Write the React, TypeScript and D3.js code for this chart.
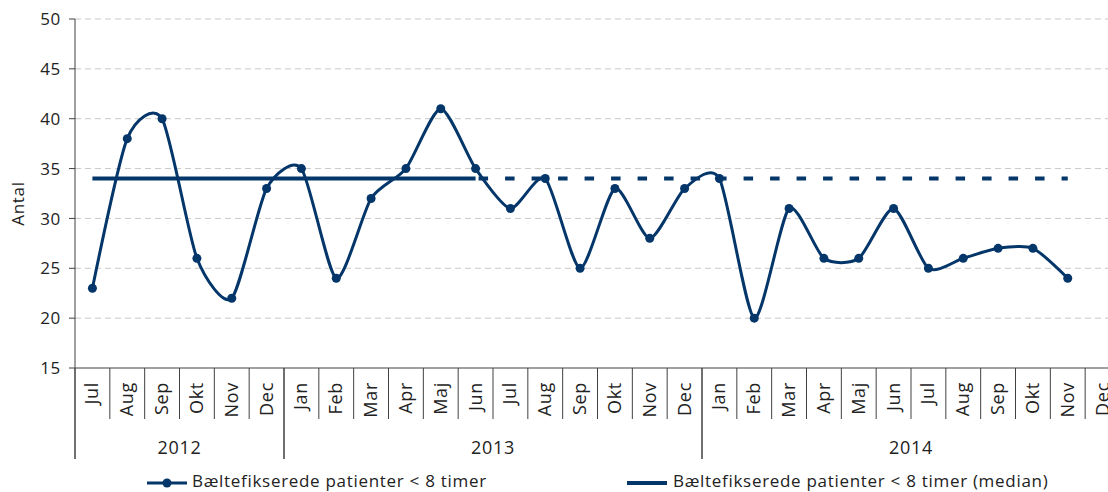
import React from "react";
import * as d3 from "d3";

const months = [
  "Jul", "Aug", "Sep", "Okt", "Nov", "Dec",
  "Jan", "Feb", "Mar", "Apr", "Maj", "Jun", "Jul", "Aug", "Sep", "Okt", "Nov", "Dec",
  "Jan", "Feb", "Mar", "Apr", "Maj", "Jun", "Jul", "Aug", "Sep", "Okt", "Nov", "Dec",
];
const yearLabels = ["2012", "2013", "2014"];
const yearStarts = [0, 6, 18];
const yearCounts = [6, 12, 12];
const values = [
  23, 38, 40, 26, 22, 33,
  35, 24, 32, 35, 41, 35, 31, 34, 25, 33, 28, 33,
  34, 20, 31, 26, 26, 31, 25, 26, 27, 27, 24,
];
const medianValue = 34;
const medianSolidRange = [0, 11];
const medianDashedRange = [11, 28];
const yTicks = [15, 20, 25, 30, 35, 40, 45, 50];
const seriesName = "Bæltefikserede patienter < 8 timer";
const medianName = "Bæltefikserede patienter < 8 timer (median)";

const W = 1108;
const H = 492;
const NAVY = "#04366a";
const FONT = "'Open Sans', Roboto, sans-serif";
const FS = 17;
const LS = 0.7;

export default function App() {
  const left = 75;
  const right = 1120;
  const top = 19;
  const bottom = 368;
  const x = d3.scaleBand<number>().domain(d3.range(months.length)).range([left, right]).padding(0);
  const y = d3.scaleLinear().domain([15, 50]).range([bottom, top]);
  const cx = (i: number) => (x(i) as number) + x.bandwidth() / 2;

  const line = d3
    .line<number>()
    .x((_, i) => cx(i))
    .y((d) => y(d))
    .curve(d3.curveCardinal.tension(0.3));

  const medLine = (r: number[]) =>
    d3.line<number>().x((i) => cx(i)).y(() => y(medianValue))([r[0], r[1]]) as string;

  const legendY = 481;

  return (
    <svg
      width={W}
      height={H}
      style={{ position: "absolute", left: 0, top: 0, background: "#fff" }}
      fontFamily={FONT}
      letterSpacing={LS}
    >
      {/* gridlines */}
      {yTicks
        .filter((t) => t > 15)
        .map((t) => (
          <line
            key={"g" + t}
            x1={left}
            x2={right}
            y1={y(t)}
            y2={y(t)}
            stroke="#c8c8c8"
            strokeWidth={1}
            strokeDasharray="6,4"
          />
        ))}
      {/* y axis */}
      <line x1={left} x2={left} y1={top} y2={459} stroke="#404040" strokeWidth={1} />
      {yTicks.map((t) => (
        <g key={"yt" + t}>
          <line x1={left - 6} x2={left} y1={y(t)} y2={y(t)} stroke="#404040" strokeWidth={1} />
          <text x={left - 14} y={y(t)} dy="0.36em" textAnchor="end" fontSize={FS} fill="#222">
            {t}
          </text>
        </g>
      ))}
      <text
        transform={`translate(24,${(top + bottom) / 2 + 10}) rotate(-90)`}
        textAnchor="middle"
        fontSize={FS}
        fill="#222"
      >
        Antal
      </text>
      {/* x axis */}
      <line x1={left} x2={right} y1={bottom} y2={bottom} stroke="#404040" strokeWidth={1} />
      {months.map((m, i) => (
        <g key={"m" + i}>
          {i > 0 && !yearStarts.includes(i) && (
            <line
              x1={x(i) as number}
              x2={x(i) as number}
              y1={bottom}
              y2={419}
              stroke="#404040"
              strokeWidth={1}
            />
          )}
          <text
            transform={`translate(${cx(i) + 6},${bottom + 14}) rotate(-90)`}
            textAnchor="end"
            fontSize={FS + 1}
            fill="#222"
          >
            {m}
          </text>
        </g>
      ))}
      {yearLabels.map((yl, k) => {
        const x0 = x(yearStarts[k]) as number;
        const x1 = x0 + yearCounts[k] * x.bandwidth();
        return (
          <g key={"y" + k}>
            <line x1={x0} x2={x0} y1={bottom} y2={459} stroke="#404040" strokeWidth={1} />
            <line x1={x1} x2={x1} y1={bottom} y2={459} stroke="#404040" strokeWidth={1} />
            <text x={(x0 + x1) / 2} y={454} textAnchor="middle" fontSize={FS + 1} fill="#222">
              {yl}
            </text>
          </g>
        );
      })}
      {/* median */}
      <path d={medLine(medianSolidRange)} stroke={NAVY} strokeWidth={4} fill="none" />
      <path
        d={medLine(medianDashedRange)}
        stroke={NAVY}
        strokeWidth={4}
        fill="none"
        strokeDasharray="9.5,17"
        strokeDashoffset={-3}
      />
      {/* series */}
      <path d={line(values) as string} stroke={NAVY} strokeWidth={3} fill="none" />
      {values.map((v, i) => (
        <circle key={"c" + i} cx={cx(i)} cy={y(v)} r={4.5} fill={NAVY} />
      ))}
      {/* legend */}
      <line x1={147} x2={187} y1={legendY + 2} y2={legendY + 2} stroke={NAVY} strokeWidth={3} />
      <circle cx={167} cy={legendY + 2} r={4.5} fill={NAVY} />
      <text x={192} y={legendY} dy="0.36em" fontSize={FS} fill="#222">
        {seriesName}
      </text>
      <line x1={627} x2={667} y1={legendY + 2} y2={legendY + 2} stroke={NAVY} strokeWidth={4} />
      <text x={673} y={legendY} dy="0.36em" fontSize={FS} fill="#222">
        {medianName}
      </text>
    </svg>
  );
}
